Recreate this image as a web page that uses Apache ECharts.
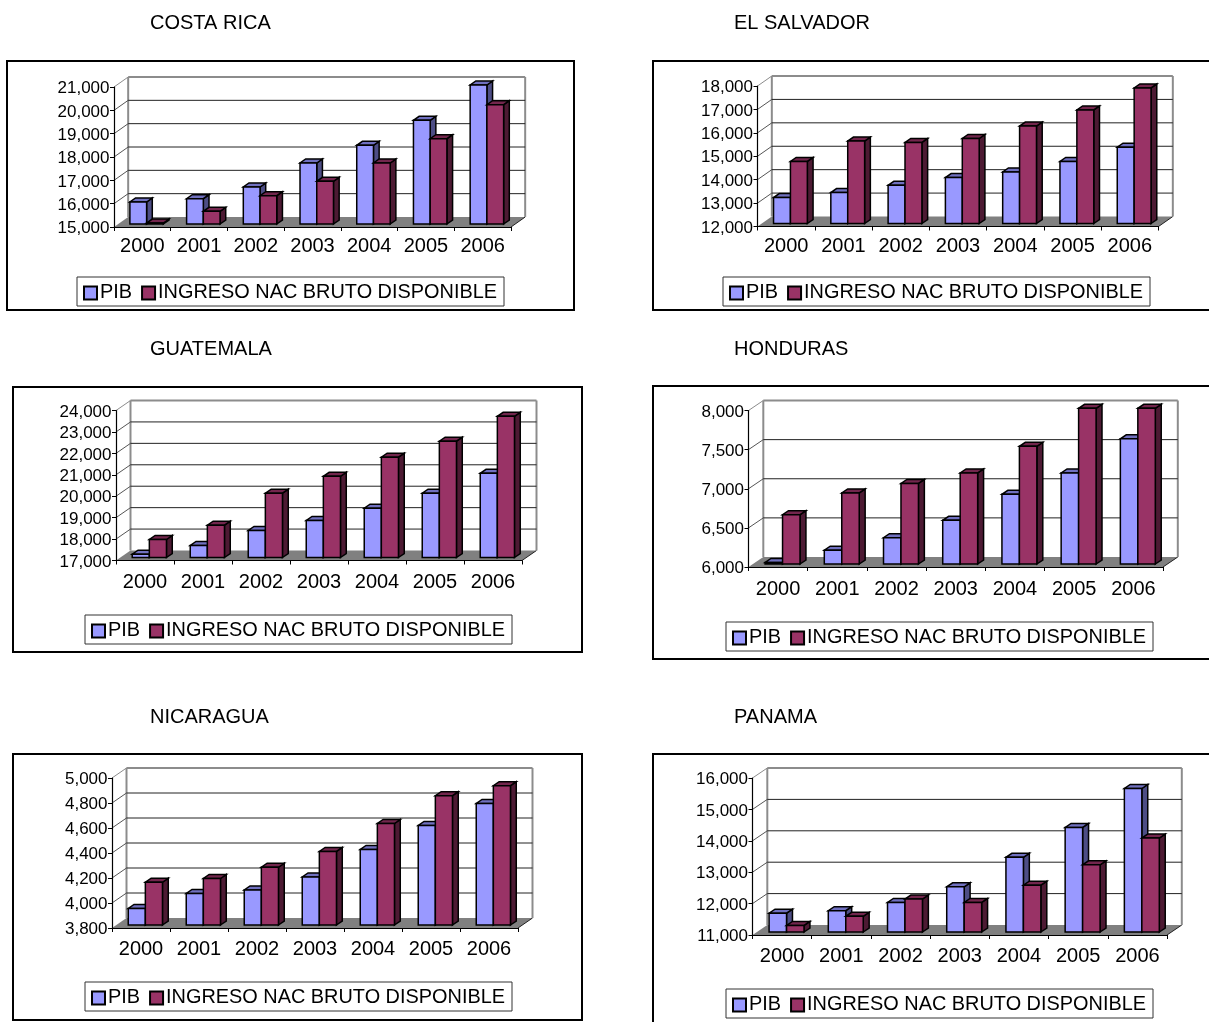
<!DOCTYPE html>
<html>
<head>
<meta charset="utf-8">
<style>html,body{margin:0;padding:0;background:#fff}#chart{width:1209px;height:1022px}</style>
<script src="https://cdn.jsdelivr.net/npm/echarts@6/dist/echarts.min.js"></script>
</head>
<body>
<div id="chart"></div>
<script>
// Producto e ingreso nacional por país, 2000-2006
const years = ['2000', '2001', '2002', '2003', '2004', '2005', '2006'];
const nombrePib = 'PIB';
const nombreIngreso = 'INGRESO NAC BRUTO DISPONIBLE';

const pibCostaRica = [15943, 16086, 16586, 17614, 18370, 19443, 20957];
const ingresoCostaRica = [15040, 15543, 16214, 16830, 17614, 18657, 20114];
const pibElSalvador = [13106, 13320, 13630, 13960, 14200, 14650, 15260];
const ingresoElSalvador = [14650, 15520, 15460, 15630, 16160, 16850, 17790];
const pibGuatemala = [17155, 17560, 18260, 18730, 19300, 20000, 20930];
const ingresoGuatemala = [17840, 18510, 20000, 20790, 21680, 22430, 23590];
const pibHonduras = [6020, 6176, 6336, 6559, 6890, 7164, 7600];
const ingresoHonduras = [6630, 6908, 7030, 7164, 7504, 7990, 7990];
const pibNicaragua = [3933, 4052, 4081, 4185, 4405, 4596, 4772];
const ingresoNicaragua = [4142, 4172, 4262, 4389, 4612, 4835, 4915];
const pibPanama = [11600, 11677, 11940, 12440, 13380, 14330, 15570];
const ingresoPanama = [11210, 11500, 12050, 11940, 12490, 13140, 13990];

const font = '"Liberation Sans", Arial, sans-serif';
const DEPTH_Y = 10;

// Posición de cada recuadro: marco, plano frontal de los ejes, título y leyenda
const panels = [
  { title: 'COSTA RICA', tx: 150, ty: 23, frame: [7, 61, 567, 249], x0: 114, x1: 511, yt: 87, yb: 227, xm: 9,
    min: 15000, max: 21000, step: 1000, pib: pibCostaRica, ing: ingresoCostaRica, lx: 77, ly: 277 },
  { title: 'EL SALVADOR', tx: 734, ty: 23, frame: [653, 61, 570, 249], x0: 757.5, x1: 1158.5, yt: 86, yb: 226.5, xm: 10,
    min: 12000, max: 18000, step: 1000, pib: pibElSalvador, ing: ingresoElSalvador, lx: 723, ly: 277 },
  { title: 'GUATEMALA', tx: 150, ty: 349, frame: [13, 387, 569, 265], x0: 116, x1: 522, yt: 410.5, yb: 560.5, xm: 12,
    min: 17000, max: 24000, step: 1000, pib: pibGuatemala, ing: ingresoGuatemala, lx: 85, ly: 615 },
  { title: 'HONDURAS', tx: 734, ty: 349, frame: [653, 386, 570, 273], x0: 748.5, x1: 1163, yt: 410.5, yb: 567, xm: 12,
    min: 6000, max: 8000, step: 500, pib: pibHonduras, ing: ingresoHonduras, lx: 726, ly: 622 },
  { title: 'NICARAGUA', tx: 150, ty: 717, frame: [13, 754, 569, 266], x0: 112, x1: 518, yt: 778, yb: 928, xm: 11,
    min: 3800, max: 5000, step: 200, pib: pibNicaragua, ing: ingresoNicaragua, lx: 85, ly: 982 },
  { title: 'PANAMA', tx: 734, ty: 717, frame: [653, 754, 570, 280], x0: 752.5, x1: 1167, yt: 778, yb: 935, xm: 11,
    min: 11000, max: 16000, step: 1000, pib: pibPanama, ing: ingresoPanama, lx: 726, ly: 989 }
];

const faces = {
  pib: { front: '#9999FF', top: '#7070C0', side: '#4D4D85' },
  ing: { front: '#993366', top: '#73264D', side: '#4D1A33' }
};

function poly(points, fill) {
  return { type: 'polygon', shape: { points }, style: { fill, stroke: '#000', lineWidth: 1.5, lineJoin: 'miter' } };
}

function line(points, stroke, lineWidth) {
  return { type: 'polyline', shape: { points }, style: { stroke, lineWidth, fill: 'none' } };
}

// Paredes, piso y líneas de división del fondo en perspectiva
function renderWalls(params, api) {
  const band = api.size([1, 0])[0];
  const dx = band * 0.25;
  const p = api.coord([api.value(0), api.value(1)]);
  const left = api.coord([0, api.value(1)])[0] - band / 2;
  const right = api.coord([6, api.value(1)])[0] + band / 2;
  const y = p[1];
  const isBase = params.dataIndex === 0;
  const isTop = params.dataIndex === params.dataInsideLength - 1;
  const children = [];
  if (isBase) {
    const topY = api.coord([0, api.value(2)])[1];
    children.push({
      type: 'polygon',
      shape: { points: [[left, y], [right, y], [right + dx, y - DEPTH_Y], [left + dx, y - DEPTH_Y]] },
      style: { fill: '#808080' }
    });
    children.push(line([[right, y], [right + dx, y - DEPTH_Y]], '#222', 1));
    children.push(line([[left + dx, y - DEPTH_Y], [left + dx, topY - DEPTH_Y]], '#8c8c8c', 2));
    children.push(line([[right + dx, y - DEPTH_Y], [right + dx, topY - DEPTH_Y]], '#8c8c8c', 2));
  } else {
    children.push(line([[left, y], [left + dx, y - DEPTH_Y]], isTop ? '#8c8c8c' : '#555', 1));
    children.push(line([[left + dx, y - DEPTH_Y], [right + dx, y - DEPTH_Y]], isTop ? '#8c8c8c' : '#222', isTop ? 2 : 1));
  }
  return { type: 'group', children };
}

// Barra con cara frontal, superior y lateral
function makeBarRenderer(tone, slot, baseValue) {
  return function (params, api) {
    const band = api.size([1, 0])[0];
    const dx = band * 0.25;
    const inX = dx * 0.3;
    const inY = DEPTH_Y * 0.3;
    const depX = dx * 0.4;
    const depY = DEPTH_Y * 0.4;
    const w = band * 0.295;
    const centre = api.coord([api.value(0), baseValue]);
    const topPt = api.coord([api.value(0), api.value(1)]);
    const xl = centre[0] - w + slot * w + inX;
    const xr = xl + w;
    const yb = centre[1] - inY;
    const yt = topPt[1] - inY;
    return {
      type: 'group',
      children: [
        poly([[xr, yb], [xr + depX, yb - depY], [xr + depX, yt - depY], [xr, yt]], tone.side),
        poly([[xl, yt], [xr, yt], [xr + depX, yt - depY], [xl + depX, yt - depY]], tone.top),
        poly([[xl, yb], [xr, yb], [xr, yt], [xl, yt]], tone.front)
      ]
    };
  };
}

const option = {
  animation: false,
  backgroundColor: '#fff',
  title: [], grid: [], xAxis: [], yAxis: [], legend: [], series: [],
  graphic: { elements: [] }
};

panels.forEach((pn, i) => {
  option.graphic.elements.push({
    type: 'rect', z: -10, silent: true,
    shape: { x: pn.frame[0], y: pn.frame[1], width: pn.frame[2], height: pn.frame[3] },
    style: { fill: '#fff', stroke: '#000', lineWidth: 2 }
  });
  option.title.push({
    text: pn.title, left: pn.tx, top: pn.ty - 10, padding: 0,
    textStyle: { fontFamily: font, fontSize: 20, fontWeight: 'normal', color: '#000', lineHeight: 20 }
  });
  option.grid.push({ left: pn.x0, top: pn.yt, width: pn.x1 - pn.x0, height: pn.yb - pn.yt, containLabel: false });
  option.xAxis.push({
    type: 'category', gridIndex: i, data: years,
    axisLine: { lineStyle: { color: '#000', width: 1.2 } },
    axisTick: { show: true, length: 4, lineStyle: { color: '#000' }, alignWithLabel: false },
    axisLabel: { fontFamily: font, fontSize: 20, color: '#000', margin: pn.xm, interval: 0 },
    z: 5
  });
  option.yAxis.push({
    type: 'value', gridIndex: i, min: pn.min, max: pn.max, interval: pn.step,
    axisLine: { show: true, lineStyle: { color: '#000', width: 1.2 } },
    axisTick: { show: true, length: 4, lineStyle: { color: '#000' } },
    axisLabel: { fontFamily: font, fontSize: 17, color: '#000', margin: 4.5, verticalAlign: 'top', lineHeight: 3 },
    splitLine: { show: false },
    z: 5
  });
  option.legend.push({
    left: pn.lx, top: pn.ly, orient: 'horizontal', icon: 'rect',
    data: [nombrePib, nombreIngreso], selectedMode: false,
    backgroundColor: '#fff', borderColor: '#333', borderWidth: 1,
    padding: [6, 7, 3, 6], itemGap: 9, itemWidth: 13, itemHeight: 13,
    textStyle: { fontFamily: font, fontSize: 19.9, color: '#000', padding: [0, 0, 0, -2] }
  });

  const tickValues = [];
  for (let v = pn.min; v <= pn.max; v += pn.step) tickValues.push([0, v, pn.max]);
  option.series.push({
    type: 'custom', xAxisIndex: i, yAxisIndex: i, silent: true, z: 1,
    data: tickValues, encode: { x: 0, y: 1 }, renderItem: renderWalls
  });
  option.series.push({
    type: 'custom', name: nombrePib, xAxisIndex: i, yAxisIndex: i, silent: true, z: 2,
    itemStyle: { color: faces.pib.front, borderColor: '#000', borderWidth: 1.5 },
    data: pn.pib.map((v, k) => [k, v]), encode: { x: 0, y: 1 },
    renderItem: makeBarRenderer(faces.pib, 0, pn.min)
  });
  option.series.push({
    type: 'custom', name: nombreIngreso, xAxisIndex: i, yAxisIndex: i, silent: true, z: 2,
    itemStyle: { color: faces.ing.front, borderColor: '#000', borderWidth: 1.5 },
    data: pn.ing.map((v, k) => [k, v]), encode: { x: 0, y: 1 },
    renderItem: makeBarRenderer(faces.ing, 1, pn.min)
  });
});

const chart = echarts.init(document.getElementById('chart'), null, { renderer: 'canvas' });
chart.setOption(option);
</script>
</body>
</html>
